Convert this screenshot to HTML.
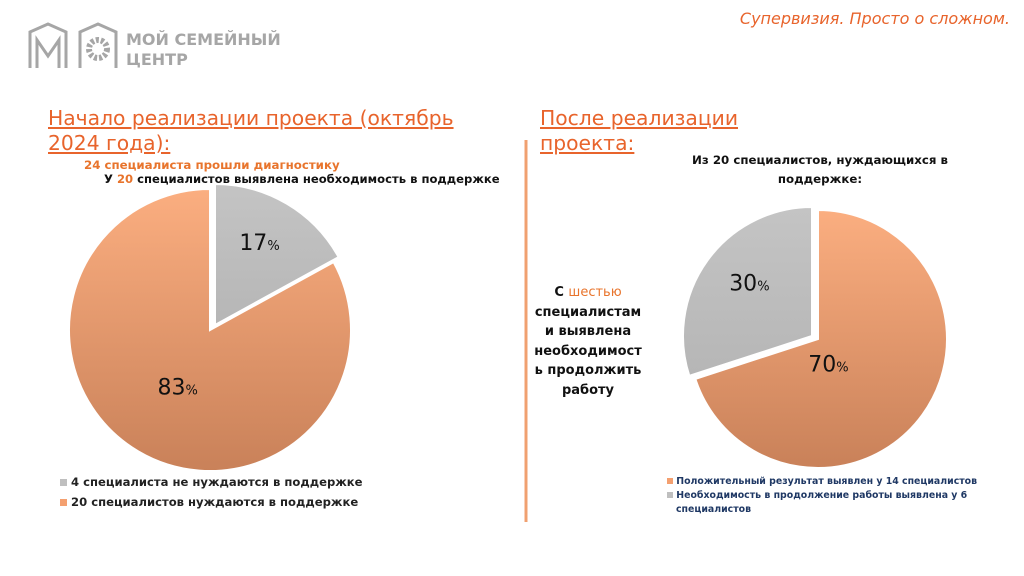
<!DOCTYPE html>
<html><head><meta charset="utf-8"><style>
body{margin:0;width:1024px;height:576px;overflow:hidden;background:#fff;font-family:"DejaVu Sans","Liberation Sans",sans-serif;position:relative}
.a{position:absolute;margin:0}
</style></head><body>
<svg class="a" style="left:0;top:0" width="1024" height="576">
<defs>
<linearGradient id="og" x1="0" y1="0" x2="0" y2="1"><stop offset="0" stop-color="#fbae80"/><stop offset="1" stop-color="#c98159"/></linearGradient>
<linearGradient id="gg" x1="0" y1="0" x2="0" y2="1"><stop offset="0" stop-color="#c4c4c4"/><stop offset="1" stop-color="#b6b6b6"/></linearGradient>
</defs>
<g fill="none" stroke="#a6a6a6" stroke-width="3">
<path d="M30 68 V32 L48 24 L66 32 V68"/><path d="M37 68 V40 L48 56 L59 40 V68"/>
<path d="M80 68 V32 L98 24 L116 32 V68"/><circle cx="98" cy="49" r="9" stroke-dasharray="3 2" stroke-width="6"/>
</g>
<line x1="526" y1="140" x2="526" y2="522" stroke="#f0a070" stroke-width="3"/>
<g id="pie1"></g>
<g id="pie2"></g>
</svg>
<div class="a" style="left:126px;top:30px;color:#a6a6a6;font-weight:bold;font-size:16px;line-height:20px">МОЙ СЕМЕЙНЫЙ<br>ЦЕНТР</div>
<div class="a" style="right:14px;top:9px;color:#e8642c;font-style:italic;font-size:16px">Супервизия. Просто о сложном.</div>
<div class="a" style="left:48px;top:106px;color:#e8642c;font-size:20.3px;line-height:25px;text-decoration:underline">Начало реализации проекта (октябрь<br>2024 года): </div>
<div class="a" style="left:84px;top:158px;color:#e8742c;font-size:11.8px;font-weight:bold">24 специалиста прошли диагностику</div>
<div class="a" style="left:104px;top:172px;color:#111;font-size:11.6px;font-weight:bold">У <span style="color:#e8742c">20</span> специалистов выявлена необходимость в поддержке</div>
<div class="a" style="left:540px;top:106px;color:#e8642c;font-size:20.3px;line-height:25px;text-decoration:underline">После реализации<br>проекта: </div>
<div class="a" style="left:680px;top:151px;width:280px;text-align:center;color:#111;font-size:11.8px;font-weight:bold;line-height:19px">Из 20 специалистов, нуждающихся в<br>поддержке:</div>
<div class="a" style="left:530px;top:283px;width:116px;text-align:center;color:#111;font-size:13px;font-weight:bold;line-height:19.5px">С <span style="color:#e8742c;font-weight:normal">шестью</span><br>специалистам<br>и выявлена<br>необходимост<br>ь продолжить<br>работу</div>
<div class="a" style="left:60px;top:472px;font-size:11.6px;font-weight:bold;color:#222;line-height:20px">
<div><span style="display:inline-block;width:7px;height:7px;background:#bfbfbf"></span> 4 специалиста не нуждаются в поддержке</div>
<div><span style="display:inline-block;width:7px;height:7px;background:#f4a070"></span> 20 специалистов нуждаются в поддержке</div></div>
<div class="a" style="left:667px;top:475px;width:320px;font-size:9.4px;font-weight:bold;color:#1f3864;line-height:14px">
<div style="white-space:nowrap"><span style="display:inline-block;width:6px;height:6px;background:#f4a070"></span> Положительный результат выявлен у 14 специалистов</div>
<div style="padding-left:9px;text-indent:-9px"><span style="display:inline-block;width:6px;height:6px;background:#bfbfbf"></span> Необходимость в продолжение работы выявлена у 6<br>специалистов</div></div>
<script>
const pie1Labels=['17','83'];
const pie1Values=[17,83];
const pie2Labels=['70','30'];
const pie2Values=[70,30];
function drawPie(gid,vals,labels,cx,cy,r,explodeIdx,off,fills,labelPos){
  const g=document.getElementById(gid);const ns='http://www.w3.org/2000/svg';
  const tot=vals.reduce((a,b)=>a+b,0);let a0=0;
  vals.forEach((v,i)=>{
    const a1=a0+v/tot*2*Math.PI;
    let x=cx,y=cy;
    if(i===explodeIdx){x+=off[0];y+=off[1];}
    const p=document.createElementNS(ns,'path');
    const sx=x+r*Math.sin(a0),sy=y-r*Math.cos(a0),ex=x+r*Math.sin(a1),ey=y-r*Math.cos(a1);
    p.setAttribute('d',`M${x} ${y} L${sx} ${sy} A${r} ${r} 0 ${a1-a0>Math.PI?1:0} 1 ${ex} ${ey} Z`);
    p.setAttribute('fill',fills[i]);p.setAttribute('stroke','#fff');p.setAttribute('stroke-width','2');
    
    
    g.appendChild(p);
    const t=document.createElementNS(ns,'text');
    const lp=labelPos[i];
    t.setAttribute('x',x+lp[0]*Math.sin((a0+a1)/2)*r);t.setAttribute('y',y-lp[0]*Math.cos((a0+a1)/2)*r+lp[1]);
    t.setAttribute('font-size','22');t.setAttribute('fill','#111');t.setAttribute('text-anchor','middle');
    t.setAttribute('font-family','DejaVu Sans, sans-serif');
    t.innerHTML=labels[i]+'<tspan font-size="13">%</tspan>';
    
    
    g.appendChild(t);
    a0=a1;
  });
}
drawPie('pie1',pie1Values,pie1Labels,210,330,141,0,[5,-5],['url(#gg)','url(#og)'],[[0.62,0],[0.45,10]]);
drawPie('pie2',pie2Values,pie2Labels,818,339,129,1,[-6,-3],['url(#og)','url(#gg)'],[[0.1,25],[0.6,0]]);
</script>
</body></html>
